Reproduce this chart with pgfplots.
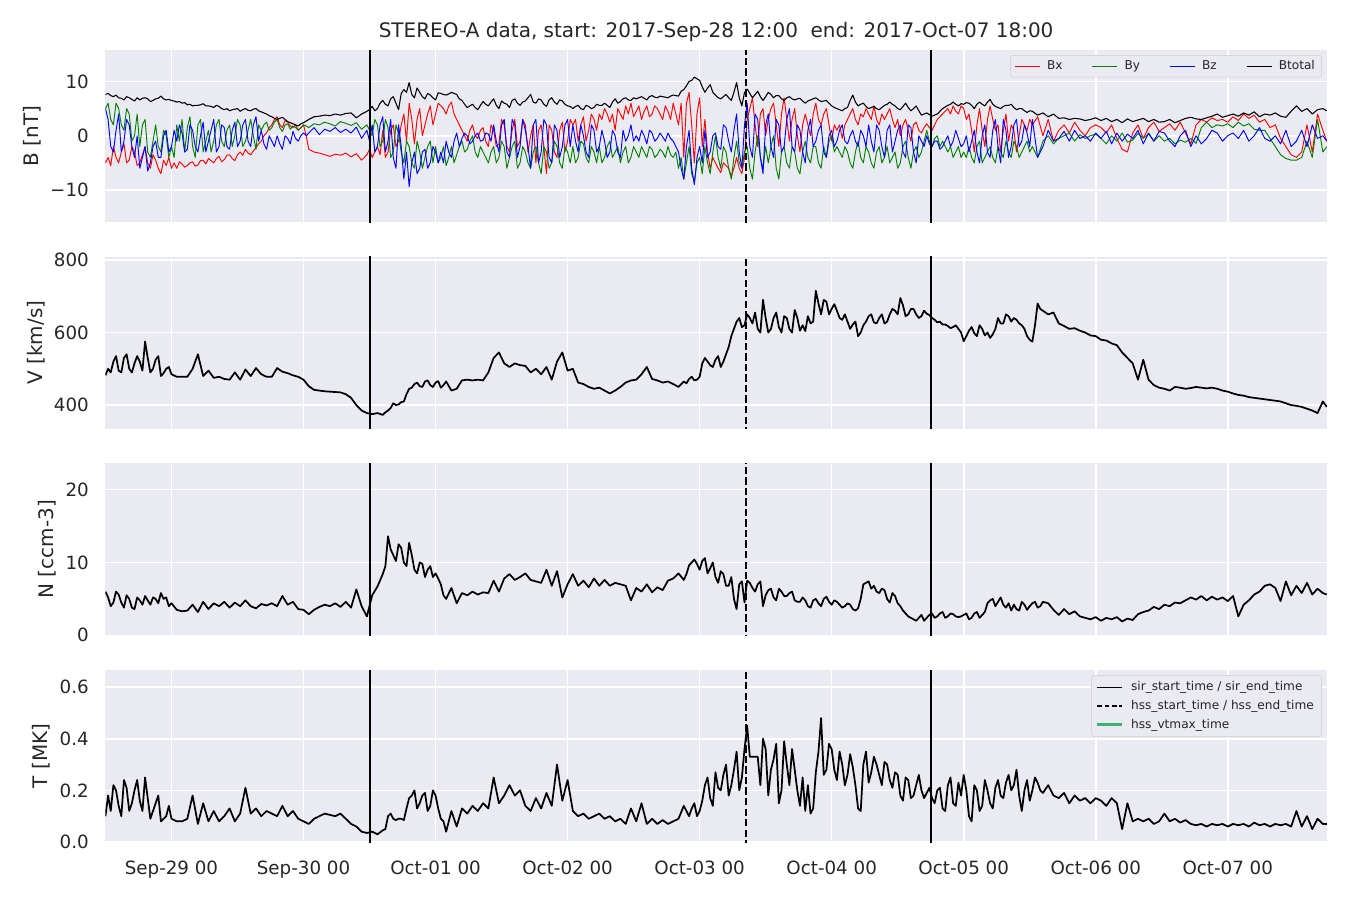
\documentclass[border=0pt]{standalone}
\usepackage{fontspec}
\setmainfont{DejaVu Sans}
\usepackage{pgfplots}
\usepackage{pgfplotstable}
\pgfplotsset{compat=1.18}

\definecolor{bgc}{HTML}{EAEAF2}
\definecolor{txt}{HTML}{262626}
\definecolor{mplgreen}{HTML}{008000}
\definecolor{seagreen}{HTML}{3CB371}

% magnetic field: time in days since 2017-09-28 00:00
\pgfplotstableread{
t bx by bz bt
0.50 -5 5 5 7.6
0.52 -4 6 3 7.8
0.54 -5.5 3 -2 7.4
0.56 -2 2 -3 7.2
0.58 -4 6 1 7.5
0.60 -5 5 4 7.0
0.62 -3 2 -3 6.9
0.64 -1.5 1 -1 6.6
0.66 -5 5 3 7.2
0.68 -4.5 4 2 7.0
0.70 -2 -1 -2 6.7
0.72 -3 0 -4 6.4
0.74 -5.5 4 0 7.0
0.76 -5 -2 -6 6.6
0.78 -3.5 2 -4 6.9
0.80 -2 3 -2 7.0
0.82 -5 -3 -6.5 6.8
0.84 -6 -4 -5 6.3
0.86 -3.5 -1 -2 6.5
0.88 -4.5 2 -1 6.8
0.90 -6 -2 -4 6.9
0.92 -7 -3 -4 7.3
0.94 -4.5 1 0 6.8
0.96 -5.5 0 1 6.6
0.98 -4 -4 -3 6.7
1.00 -6 -2 -2 6.5
1.02 -5 -4 1 6.4
1.04 -6 2 -1 6.2
1.06 -4.8 -1 2 6.3
1.08 -5.2 3 0.5 6.0
1.10 -5.8 -3 -3 6.1
1.12 -5.5 1.5 -2.5 5.7
1.14 -5 3.5 2 5.8
1.16 -4.8 -2 1 5.5
1.18 -5.6 -4 -2 5.6
1.20 -5.4 2 -3 5.6
1.22 -4.6 3 0 5.7
1.24 -4.5 -3 2.5 5.9
1.26 -5.2 -1 -3 5.5
1.28 -4.2 1 -1 5.5
1.30 -4.6 -3 1 5.4
1.32 -5 -1 3 5.2
1.34 -4.2 2 -3 5.6
1.36 -3.8 3 -2 5.4
1.38 -4.8 -1 2 5.0
1.40 -4.4 -2 1.5 4.8
1.42 -3.6 1 -2 5.0
1.44 -3.5 2 -2.5 4.6
1.46 -4.2 -2 1 4.8
1.48 -4.6 0 2.5 4.9
1.50 -3.5 3 -2 5.0
1.52 -3 2 -1 4.5
1.54 -3.6 -2 2 4.8
1.56 -2.5 -1 3 5.0
1.58 -3.2 1 -1 4.7
1.60 -3.5 3 -2 4.6
1.62 -2.8 0 2 4.9
1.64 -2.2 -2.5 3.5 5.0
1.66 -1.5 2 -1 4.6
1.68 -1 1 1 4.4
1.70 0 2 -1.5 4.2
1.72 0.5 2.5 -2.5 4.0
1.74 1.5 1 0 3.7
1.76 2 1.5 -1 3.5
1.78 3 2.5 -2 3.2
1.80 3.5 3 0 3.0
1.82 2 1.5 -1.5 3.2
1.84 1.5 0.8 -2.5 3.4
1.86 2.8 2 0 3.0
1.88 2.5 2.2 -0.5 2.6
1.90 1.8 1.2 -1.5 2.4
1.92 1.5 1.8 0.8 2.2
1.94 2 1.5 -0.5 2.0
1.96 1 1 -1 1.8
1.98 1.5 1.5 0 2.2
2.00 2 2 0.5 2.4
2.02 0 1.8 0 2.7
2.04 -2.5 1.5 0.5 3.0
2.08 -3 2.2 1.5 3.5
2.12 -3.2 2 0.2 3.6
2.16 -3.5 2.5 1.2 3.8
2.20 -3.8 2.2 0.8 3.7
2.24 -3.4 1.8 1.5 4.0
2.28 -3.6 2.6 0.6 3.8
2.32 -3.2 2.3 1.2 4.1
2.36 -3.9 1.9 0.5 4.2
2.40 -3.3 2.4 1.6 3.3
2.44 -4.5 1.2 -0.5 4.0
2.48 -3.5 2 1 4.5
2.50 -2.5 1 -1 4.8
2.52 -4 0 2 5.4
2.54 -3 3 -3 4.6
2.56 -2 2 -2 5.0
2.58 -3.5 -2 2 6.0
2.60 1 -1 3.5 6.5
2.62 -4 3 -3 5.8
2.64 -3 1.5 -1 5.5
2.66 1 -4 3 6.8
2.68 2 -3 -4 7.2
2.70 -2 2 -6 6.0
2.72 -1 0.5 2 4.8
2.74 2 -3 -2 7.8
2.76 4 -5 -8 8.5
2.78 -1 -1 -3 8.0
2.80 6 -2 -9.4 9.8
2.82 3 -5 -5 7.6
2.84 -1.5 -6 -3 7.0
2.86 3 -1 -7 8.8
2.88 5 -3 -6 8.0
2.90 0 -6 -3 7.2
2.92 2 -4 -2.5 6.8
2.94 4 -2 -6 7.8
2.96 5.5 -1 -5 7.5
2.98 2 -5 -2 7.0
3.00 4 -2 -3 6.6
3.02 6 -5 -5 7.9
3.04 5.5 -4 -3 7.8
3.06 5 -2 -5 7.6
3.08 4 -5.5 -1 7.5
3.10 5.5 -4 -3 7.7
3.12 6.2 -2 -4 8.0
3.14 4 -5 -1 7.8
3.16 3 -3.5 0.5 7.6
3.18 2 -2 -2 6.8
3.20 1 -1 -0.5 6.5
3.22 0 -3 0.5 5.8
3.24 -1 -2.5 0 5.2
3.26 1 -1 -1.5 5.5
3.28 2 0 -1 5.8
3.30 0 -3 0 5.2
3.32 -0.5 -4 0.5 4.8
3.34 1 -2 -1 5.6
3.36 1.5 -3 -0.8 6.3
3.38 -1 -4 0.5 5.8
3.40 -2 -5 0.3 5.5
3.42 2 -3 -1 6.2
3.44 1 -2 2 6.8
3.46 -2 -5 -1 5.6
3.48 -1.5 -4 -3 5.0
3.50 3 -1 2 6.4
3.52 2 -2 3 6.0
3.54 -2 -6 -3 5.8
3.56 -3 -4 -4 5.2
3.58 1 -2 3 6.5
3.60 3 -1 2 6.8
3.62 -2 -6 -4 6.0
3.64 -1 -5 -2 5.6
3.66 3 -2 3 6.2
3.68 2 -3 1 6.4
3.70 -3 -5 -2 7.0
3.72 0 -6 -6 7.6
3.74 2 -3 2 6.2
3.76 -5 -2 3 6.0
3.78 1 -5 -5 6.8
3.80 2 -7 -3 6.6
3.82 -2 -2 3 5.8
3.84 -7 -3 2 5.4
3.86 2 -6 -4 6.6
3.88 1 -5 -5 7.0
3.90 -3 -1 2 6.2
3.92 -4 -2 1 5.8
3.94 1 -5 -4 6.6
3.96 2.5 -6 -2 6.4
3.98 -3 -2 2 5.8
4.00 -1 -3 3 5.5
4.02 3 -5 -2 5.4
4.04 2 -2 2 5.0
4.06 3 -5 -1 5.4
4.08 -1 -4 -3 5.6
4.10 2 -1 2 5.0
4.12 3.5 -1.5 0 4.8
4.14 -1 -4 -3 5.6
4.16 1 -5 -4 5.4
4.18 4 -2 2 5.0
4.20 3 -3 1 5.2
4.22 1 -5 -3 5.8
4.24 4 -2 -2 5.6
4.26 3 -5 1 5.6
4.28 5 -4 -1 6.0
4.30 4 -2 -4 5.6
4.32 2.5 -1 -3 5.2
4.34 4 -4 1 6.2
4.36 1 -3 0 6.8
4.38 5 -2 -3 6.0
4.40 4 -5 -4 6.3
4.42 3 -3 1 6.8
4.44 5.5 -2 -1 7.0
4.46 4 -5 0 6.6
4.48 6 -4 2 6.5
4.50 3.5 -2 -1 7.0
4.52 4.5 -3 0 6.8
4.54 5.5 -4 -1 7.0
4.56 3 -2 1 7.2
4.58 4.5 -3 0 6.9
4.60 5.5 -4 -1.5 6.6
4.62 3.5 -2 1 7.2
4.64 4 -2.5 0.5 7.4
4.66 5.5 -4 -1 7.1
4.68 5 -3.5 -0.5 7.0
4.70 4 -2.5 0.5 7.3
4.72 3 -3 -0.2 7.2
4.74 5.5 -4 -1 7.1
4.76 4.5 -2 0.5 7.0
4.78 3 -3.5 -0.5 7.3
4.80 6 -4 -1 7.5
4.82 4 -3 -2 7.4
4.84 2 -6 -3 7.3
4.86 6 -4 -6 8.2
4.88 -4 -8 -8 8.5
4.90 6 -5 -2 9.2
4.92 8 -2 1 10.0
4.94 2 -7 -6 10.2
4.96 -5 -8.5 -9 10.8
4.98 4 -5 -4 10.5
5.00 7 -4 -2 10.2
5.02 -2 -7 -5 9.0
5.04 3 -2 1 8.0
5.06 -3 -5 -4 8.8
5.08 -6 -7 -3 9.4
5.10 -4 -3 0 8.0
5.12 -5 0 0.5 7.5
5.14 -6 -4 -2 7.0
5.16 -6.8 -6 -2.5 6.8
5.18 -5 -2 2 7.2
5.20 -5.5 -3 1.5 7.6
5.22 -6 -6 -1 7.0
5.24 -7.5 -8 -3 6.5
5.26 -6 -4 1 8.0
5.28 -4 -1 4 9.8
5.30 -6 -5 -3 7.0
5.32 -7 -6 -6 5.5
5.34 -4 -3 2 8.0
5.36 3 -2 6 8.6
5.38 5 -6 -2 7.8
5.40 7 -8 -4 7.0
5.42 2 -3 4 7.6
5.44 -2 0 3 8.2
5.46 4 -4 -4 7.2
5.48 5 -6 -7 6.5
5.50 0 -2 2 7.2
5.52 3 -5 4 8.0
5.54 5 -2 -2 7.6
5.56 6 0 -4 7.0
5.58 2 -6 3 7.4
5.60 -2 -8 2 7.4
5.62 4 -3 -3 6.8
5.64 7 -2 -2 6.5
5.66 3 -5 3 7.0
5.68 -1 -6 5 7.2
5.70 3 -2 -2 6.8
5.72 5 -3 -3 6.6
5.74 0 -6 2 6.8
5.76 -3 -7 1 6.9
5.78 2 -3 -3 6.4
5.80 4 -1 -5 6.0
5.82 2 -4 1 6.4
5.84 0 -5 3 6.6
5.86 4 -2 -2 6.8
5.88 6 -2 -1 7.0
5.90 3 -5 1 6.6
5.92 2 -6 2 6.3
5.94 4 -2 -3 6.4
5.96 5 -4 -4 6.5
5.98 2 -1 0 6.0
6.00 -1 0 1 5.5
6.02 2 -3 -2 5.2
6.04 1 -2 -1 5.0
6.06 2 -3 1 4.8
6.08 -0.5 -4 2 4.6
6.10 2 -2 -1 5.0
6.12 3 -3 -1.5 5.2
6.14 4 -5 0 6.5
6.16 5 -6 1 7.5
6.18 3 -3 -1 6.2
6.20 2 -1 -2 5.5
6.22 4 -4 1 5.8
6.24 3.5 -5 0 6.0
6.26 5 -2 -2 5.4
6.28 4 -3 2 5.0
6.30 3 -5 -1 5.2
6.32 5.5 -6 -3 5.4
6.34 3 -3 2 5.0
6.36 2 -2 1 4.8
6.38 4 -5 -2 5.2
6.40 3 -4 -4 5.6
6.42 4 -2 1 5.8
6.44 5 -5 2 6.2
6.46 3 -4 -3 5.8
6.48 1.5 -3 -1 5.5
6.50 3 -6 1 5.0
6.52 0 -5 2 4.8
6.54 2 -2 -3 5.4
6.56 3 -1 -4 6.0
6.58 1 -4 2 5.2
6.60 -1 -6 1.5 4.6
6.62 2 -3 -3 5.0
6.64 2.5 -2 -5 5.5
6.66 1 -4 0 4.6
6.68 0.5 -3 -1 3.8
6.70 1.5 -1 -2 4.0
6.72 2.2 1 0 4.2
6.74 1.5 -1 -1.5 3.9
6.76 1 -2 -2 3.6
6.78 2 -0.5 -1 3.8
6.80 3 0 -1 4.0
6.82 3.5 -2 -2.5 4.5
6.84 4 -1 -2 5.0
6.86 4.5 -2 -1 5.3
6.88 5 -3 0 5.6
6.90 4 -2 -2 5.8
6.92 5.5 -4 -1 6.2
6.94 4.5 -3 1 5.8
6.96 4 -2 -0.5 5.5
6.98 5.5 -4 -2 5.9
7.00 5 -3 -1.5 5.8
7.02 3 -4 0 6.1
7.04 4 -2 -3 6.0
7.06 1 -4 -1 5.6
7.08 -3 -5 1 5.0
7.10 2 -2 -3 5.8
7.12 5 -1 -5 6.2
7.14 1 -5 0 5.8
7.16 -2 -4 2 5.5
7.18 3 -3 -3 6.2
7.20 5.5 -2 -4 6.7
7.22 3 -4 1 5.8
7.24 1 -5 3 5.4
7.26 2 -2 -2 5.2
7.28 -3 -3 -5 5.0
7.30 1 -4 3 5.4
7.32 4 -1 1 5.6
7.34 -1 -3 -4 5.6
7.36 2 -4 -2 5.8
7.38 1 -1 2 5.2
7.40 -3 -2 3 4.8
7.42 0 -4 -2 5.0
7.44 3 -3 -1 5.0
7.46 2 -2 2 4.6
7.48 1 -1 0.5 4.3
7.50 3 -3 -2 4.6
7.52 2 -2 3 4.5
7.56 3.5 -4 -4 3.8
7.60 0 -1 -2 4.2
7.64 3 0 1 3.5
7.68 -1 -1.5 -1 4.0
7.72 1 -0.5 -0.5 3.2
7.76 2 0 0.8 3.3
7.80 0.5 0.5 -1 3.0
7.84 2.5 -1 1 3.2
7.88 1 0.2 -0.5 3.1
7.92 0 -0.5 0 2.8
7.96 1.5 0 -1 3.0
8.00 2 0.3 0.5 3.3
8.04 1.5 -0.5 -0.5 2.8
8.08 0.5 -1.5 0.8 3.2
8.12 2 0 -1.5 2.6
8.16 -0.5 -1 0.5 3.0
8.20 -2.5 0.5 -1 2.4
8.24 -3 -1.2 0.3 3.1
8.28 0.5 -0.8 -0.5 2.6
8.32 2 0.4 1 2.9
8.36 -0.5 -0.4 -1.5 3.2
8.40 1.5 0.3 0.5 2.6
8.44 2.5 -1 -1 3.0
8.48 0.8 0 0.8 2.5
8.52 1.5 -1 0.5 2.6
8.56 2.2 -0.5 -1 3.0
8.60 1 -1.5 -2 2.4
8.64 2.5 -0.8 0 2.8
8.68 0.5 -1.2 1 3.2
8.72 -1.5 -0.5 -2 3.4
8.76 2 -1.4 0 3.1
8.80 3 1.5 -1.5 3.0
8.84 2.5 2.5 -0.5 3.3
8.88 3.3 1.5 1 3.6
8.92 2.8 2 0.5 4.0
8.96 3 1.8 -1 3.4
9.00 2.5 2.2 0 3.7
9.04 3.5 1.5 0.5 4.0
9.08 2.8 2.5 -0.5 3.6
9.12 4 1.8 1 4.2
9.16 3.2 2.2 -1 3.8
9.20 3.8 1.2 0 4.4
9.24 2.5 1 1.5 3.5
9.28 3 1 -0.5 4.0
9.32 1.5 -0.5 -1 3.8
9.36 2 -2 0 4.2
9.40 -0.5 -3.5 -1.5 3.6
9.44 -2 -4.2 1 3.4
9.48 -3.5 -4.5 -2 4.5
9.52 -4 -4.5 -1 5.5
9.56 -3 -4 1 4.5
9.60 2 -1 -2 5.0
9.64 -3 -4 2 4.0
9.68 4 3 -0.5 4.8
9.72 1 -3 0 5.0
9.75 -1 -2 -1 4.6
}\bdata

% plasma: speed, density, temperature
\pgfplotstableread{
t v n T
0.50 482 6.0 0.10
0.52 500 5.2 0.18
0.54 490 4.0 0.12
0.56 520 4.5 0.22
0.58 535 6.0 0.20
0.60 495 5.6 0.14
0.62 490 4.5 0.10
0.64 530 3.8 0.24
0.66 540 5.5 0.21
0.68 500 5.0 0.12
0.70 490 3.8 0.15
0.72 515 3.6 0.20
0.74 535 5.2 0.24
0.76 520 4.8 0.16
0.78 495 4.2 0.12
0.80 575 5.4 0.25
0.82 530 4.8 0.17
0.84 490 4.2 0.09
0.86 500 5.2 0.12
0.88 525 5.0 0.15
0.90 535 4.4 0.18
0.92 480 5.8 0.08
0.94 488 5.0 0.09
0.96 500 5.2 0.10
0.98 505 4.0 0.14
1.00 485 4.4 0.09
1.04 478 3.5 0.08
1.08 478 3.3 0.08
1.12 478 3.4 0.09
1.16 500 4.2 0.18
1.20 540 3.2 0.07
1.24 480 4.6 0.15
1.28 495 3.6 0.08
1.32 475 4.4 0.12
1.36 478 4.0 0.08
1.40 472 4.6 0.10
1.44 470 3.8 0.13
1.48 490 4.5 0.08
1.52 470 4.0 0.11
1.56 498 4.8 0.21
1.60 480 4.0 0.11
1.64 502 3.7 0.13
1.68 485 4.3 0.10
1.72 478 4.1 0.12
1.76 478 4.4 0.11
1.80 502 4.0 0.10
1.84 492 5.4 0.14
1.88 488 4.2 0.10
1.92 482 4.6 0.12
1.96 478 3.6 0.09
2.00 470 3.5 0.08
2.04 452 2.9 0.07
2.08 442 3.5 0.09
2.12 440 3.9 0.10
2.16 438 4.2 0.11
2.20 437 4.0 0.105
2.24 436 4.4 0.10
2.28 435 3.9 0.11
2.32 430 4.6 0.09
2.36 420 3.8 0.07
2.40 400 6.3 0.06
2.44 385 4.0 0.04
2.48 378 2.6 0.035
2.52 375 5.5 0.04
2.56 378 6.7 0.03
2.60 373 8.4 0.045
2.62 380 9.5 0.05
2.64 385 13.6 0.10
2.66 392 11.8 0.11
2.68 405 11.0 0.09
2.70 400 10.2 0.085
2.72 402 12.5 0.09
2.74 408 12.0 0.09
2.76 410 10.0 0.085
2.78 430 9.5 0.13
2.80 445 12.7 0.17
2.82 448 11.0 0.18
2.84 458 9.0 0.20
2.86 462 8.5 0.13
2.88 452 10.0 0.15
2.90 450 9.8 0.18
2.92 465 8.0 0.19
2.94 468 9.0 0.12
2.96 455 9.5 0.14
2.98 450 8.0 0.20
3.00 462 8.5 0.18
3.02 466 7.8 0.13
3.04 448 7.0 0.09
3.06 455 5.5 0.08
3.08 465 5.0 0.04
3.12 440 6.5 0.12
3.16 445 4.4 0.06
3.20 468 5.8 0.13
3.24 470 5.5 0.11
3.28 468 6.0 0.14
3.32 470 5.6 0.12
3.36 468 5.9 0.15
3.40 490 5.8 0.13
3.44 530 7.5 0.25
3.48 545 6.0 0.15
3.52 515 7.8 0.18
3.56 505 8.4 0.22
3.60 515 7.6 0.18
3.64 510 8.0 0.20
3.68 508 8.5 0.14
3.72 490 7.6 0.12
3.76 500 7.4 0.17
3.80 485 7.2 0.13
3.84 505 9.0 0.19
3.88 470 6.8 0.14
3.92 520 8.8 0.30
3.96 545 5.2 0.16
4.00 495 7.0 0.24
4.04 500 8.4 0.12
4.08 462 6.8 0.10
4.12 458 7.5 0.11
4.16 450 6.6 0.09
4.20 445 7.8 0.10
4.24 448 6.8 0.11
4.28 440 7.6 0.09
4.32 432 6.8 0.10
4.36 440 7.2 0.08
4.40 450 7.0 0.09
4.44 462 6.8 0.07
4.48 468 4.8 0.13
4.52 470 6.5 0.08
4.56 485 6.0 0.15
4.60 505 7.0 0.07
4.64 472 5.9 0.09
4.68 468 6.6 0.07
4.72 462 6.2 0.085
4.76 465 7.5 0.07
4.80 458 7.8 0.08
4.84 450 8.5 0.09
4.88 465 7.6 0.14
4.90 460 8.4 0.12
4.92 472 9.6 0.10
4.94 478 10.0 0.13
4.96 468 10.4 0.15
4.98 470 9.8 0.10
5.00 478 9.0 0.12
5.02 515 10.2 0.16
5.04 530 10.6 0.22
5.06 520 8.5 0.25
5.08 510 9.2 0.17
5.10 505 10.0 0.14
5.12 525 8.0 0.27
5.14 535 7.2 0.21
5.16 505 8.8 0.20
5.18 520 8.4 0.26
5.20 540 6.8 0.30
5.22 560 6.8 0.18
5.24 590 8.0 0.22
5.26 610 5.0 0.28
5.28 630 3.6 0.35
5.30 640 7.0 0.20
5.32 615 7.4 0.25
5.34 620 4.5 0.36
5.36 650 7.5 0.45
5.38 640 7.2 0.33
5.40 625 6.5 0.33
5.42 655 6.0 0.33
5.44 610 7.0 0.33
5.46 600 7.4 0.22
5.48 690 4.0 0.40
5.50 640 5.5 0.36
5.52 600 6.2 0.18
5.54 610 6.4 0.28
5.56 640 5.2 0.32
5.58 655 4.8 0.38
5.60 615 6.4 0.15
5.62 600 6.0 0.20
5.64 645 5.4 0.39
5.66 640 5.4 0.30
5.68 610 5.8 0.22
5.70 600 6.0 0.36
5.72 662 4.8 0.28
5.74 640 4.6 0.20
5.76 605 4.6 0.14
5.78 620 5.2 0.25
5.80 604 4.8 0.12
5.82 645 4.0 0.22
5.84 625 3.8 0.11
5.86 630 4.8 0.13
5.88 715 5.0 0.27
5.90 680 4.4 0.35
5.92 650 4.0 0.48
5.94 690 5.0 0.26
5.96 685 5.3 0.28
5.98 650 4.6 0.38
6.00 665 4.2 0.36
6.02 678 4.8 0.28
6.04 660 4.6 0.24
6.06 640 4.2 0.35
6.08 635 3.8 0.30
6.10 650 4.0 0.22
6.12 630 4.4 0.26
6.14 610 4.2 0.34
6.16 622 3.6 0.29
6.18 630 3.4 0.22
6.20 590 3.7 0.13
6.22 600 5.0 0.12
6.24 620 7.0 0.30
6.26 630 7.2 0.35
6.28 645 7.4 0.23
6.30 650 6.4 0.27
6.32 628 6.8 0.33
6.34 625 6.0 0.30
6.36 640 5.8 0.26
6.38 650 6.4 0.22
6.40 625 6.2 0.31
6.42 630 5.0 0.30
6.44 650 4.5 0.24
6.46 665 5.8 0.21
6.48 660 5.4 0.27
6.50 650 4.4 0.26
6.52 695 4.0 0.18
6.54 675 3.4 0.16
6.56 645 3.0 0.25
6.58 650 2.6 0.24
6.60 665 2.4 0.17
6.62 665 2.2 0.18
6.64 650 2.0 0.22
6.66 640 2.4 0.26
6.68 645 2.8 0.20
6.70 660 2.0 0.17
6.72 652 2.4 0.19
6.74 648 2.8 0.21
6.76 640 3.0 0.17
6.78 635 2.4 0.15
6.80 628 2.6 0.20
6.82 630 3.0 0.21
6.84 622 3.2 0.13
6.86 622 2.4 0.12
6.88 618 2.6 0.22
6.90 612 3.0 0.25
6.92 615 2.9 0.15
6.94 620 2.6 0.14
6.96 610 2.5 0.23
6.98 600 2.6 0.18
7.00 576 2.8 0.26
7.02 590 3.0 0.20
7.04 605 2.2 0.10
7.06 615 2.4 0.08
7.08 598 3.0 0.22
7.10 590 3.2 0.20
7.12 620 2.4 0.12
7.14 610 2.8 0.14
7.16 592 3.2 0.24
7.18 600 4.4 0.20
7.20 585 4.8 0.15
7.22 595 5.0 0.13
7.24 610 4.0 0.21
7.26 640 4.6 0.24
7.28 625 5.2 0.18
7.30 625 4.2 0.17
7.32 650 3.8 0.23
7.34 645 4.4 0.26
7.36 630 3.4 0.20
7.38 640 4.2 0.22
7.40 635 3.6 0.28
7.42 625 3.4 0.18
7.44 620 4.6 0.12
7.46 610 4.2 0.20
7.48 590 3.5 0.24
7.50 580 4.0 0.16
7.52 575 4.4 0.20
7.54 620 4.6 0.25
7.56 680 3.8 0.23
7.58 665 4.0 0.20
7.60 660 4.6 0.19
7.64 650 4.4 0.22
7.68 655 3.5 0.18
7.72 625 2.8 0.17
7.76 618 3.6 0.19
7.80 610 2.9 0.15
7.84 612 3.3 0.18
7.88 605 2.6 0.16
7.92 600 2.4 0.17
7.96 592 2.2 0.15
8.00 590 2.5 0.17
8.04 580 2.0 0.16
8.08 578 2.4 0.14
8.12 570 2.2 0.17
8.16 565 2.5 0.15
8.20 545 1.9 0.05
8.24 530 2.3 0.15
8.28 515 2.1 0.08
8.32 470 2.9 0.09
8.36 525 3.2 0.08
8.40 470 3.4 0.09
8.44 455 3.9 0.07
8.48 448 3.6 0.08
8.52 445 4.2 0.11
8.56 440 4.0 0.08
8.60 450 4.5 0.09
8.64 448 4.4 0.075
8.68 445 4.8 0.085
8.72 447 5.2 0.07
8.76 450 4.9 0.065
8.80 448 5.4 0.07
8.84 446 4.8 0.06
8.88 448 5.3 0.07
8.92 445 4.9 0.065
8.96 440 5.2 0.07
9.00 437 4.7 0.06
9.04 432 5.4 0.07
9.08 428 2.6 0.065
9.12 426 4.2 0.07
9.16 422 4.8 0.06
9.20 420 5.6 0.075
9.24 418 6.0 0.065
9.28 416 6.8 0.07
9.32 414 7.0 0.06
9.36 412 6.5 0.07
9.40 410 4.7 0.065
9.44 405 7.4 0.07
9.48 400 5.5 0.06
9.52 398 6.8 0.12
9.56 395 5.8 0.06
9.60 390 7.2 0.10
9.64 385 5.6 0.05
9.68 378 6.4 0.09
9.72 410 5.8 0.07
9.75 395 5.6 0.07
}\pdata

\pgfplotsset{
  panel/.style={
    scale only axis, width=916pt, height=129pt,
    xmin=0.5, xmax=9.75,
    anchor=north west,
    axis background/.style={fill=bgc},
    axis line style={draw=none},
    major tick length=0pt,
    grid=major,
    major grid style={white, line width=1.2pt},
    xtick={1,2,3,4,5,6,7,8,9}, xticklabels={},
    tick label style={font=\fontsize{13.7}{16}\selectfont, text=txt},
    yticklabel style={xshift=-9pt},
    xticklabel style={yshift=-10.5pt},
    ylabel style={font=\fontsize{15}{18}\selectfont, text=txt},
    every axis plot/.append style={line join=round},
    legend cell align=left,
  },
  sir/.style={black, line width=1.5pt, forget plot},
  hss/.style={black, line width=1.5pt, dash pattern=on 5.5pt off 2.4pt, forget plot},
}

\begin{document}
\begin{tikzpicture}
\useasboundingbox (-79.1pt,37.5pt) rectangle (933.4pt,-637.5pt);

% --- magnetic field ---
\begin{axis}[panel, at={(0pt,0pt)},
  ymin=-15.9, ymax=15.8, ytick={-10,0,10}, yticklabels={−10,0,10},
  ylabel={B [nT]},
  title={STEREO-A data, start: 2017-Sep-28 12:00\ \ end: 2017-Oct-07 18:00},
  title style={font=\fontsize{15}{18}\selectfont, text=txt, at={(0.5,1)}, anchor=base, yshift=3.5pt},
  legend columns=4,
  legend style={at={(rel axis cs:1,1)}, anchor=north east, xshift=-3.75pt, yshift=-3.75pt,
    font=\fontsize{9.1}{11}\selectfont, text=txt, fill=bgc, draw=black!20, rounded corners=2pt,
    /tikz/every odd column/.append style={column sep=3pt},
    /tikz/every even column/.append style={column sep=20pt}},
  legend image code/.code={\draw[#1] (0pt,0pt) -- (18.75pt,0pt);},
]
\addplot[red, line width=0.7pt] table[x=t, y=bx]{\bdata};
\addlegendentry{Bx}
\addplot[mplgreen, line width=0.7pt] table[x=t, y=by]{\bdata};
\addlegendentry{By}
\addplot[blue, line width=0.7pt] table[x=t, y=bz]{\bdata};
\addlegendentry{Bz}
\addplot[black, line width=0.8pt] table[x=t, y=bt]{\bdata};
\addlegendentry{Btotal}
\addplot[sir] coordinates {(2.5,-20) (2.5,20)};
\addplot[hss] coordinates {(5.35,-20) (5.35,20)};
\addplot[sir] coordinates {(6.75,-20) (6.75,20)};
\end{axis}

% --- speed ---
\begin{axis}[panel, at={(0pt,-155pt)},
  ymin=335, ymax=809, ytick={400,600,800}, yticklabels={400,600,800},
  ylabel={V [km/s]},
]
\addplot[black, line width=1.3pt] table[x=t, y=v]{\pdata};
\addplot[sir] coordinates {(2.5,0) (2.5,1000)};
\addplot[hss] coordinates {(5.35,0) (5.35,1000)};
\addplot[sir] coordinates {(6.75,0) (6.75,1000)};
\end{axis}

% --- density ---
\begin{axis}[panel, at={(0pt,-310pt)},
  ymin=0, ymax=23.6, ytick={0,10,20}, yticklabels={0,10,20},
  ylabel={N [ccm-3]},
]
\addplot[black, line width=1.3pt] table[x=t, y=n]{\pdata};
\addplot[sir] coordinates {(2.5,-1) (2.5,30)};
\addplot[hss] coordinates {(5.35,-1) (5.35,30)};
\addplot[sir] coordinates {(6.75,-1) (6.75,30)};
\end{axis}

% --- temperature ---
\begin{axis}[panel, at={(0pt,-465pt)},
  ymin=0, ymax=0.666, ytick={0,0.2,0.4,0.6}, yticklabels={0.0,0.2,0.4,0.6},
  ylabel={T [MK]},
  xticklabels={Sep-29 00,Sep-30 00,Oct-01 00,Oct-02 00,Oct-03 00,Oct-04 00,Oct-05 00,Oct-06 00,Oct-07 00},
  legend style={at={(rel axis cs:1,1)}, anchor=north east, xshift=-3.75pt, yshift=-3.75pt,
    font=\fontsize{9.1}{11}\selectfont, text=txt, fill=bgc, draw=black!20, rounded corners=2pt,
    nodes={inner sep=2.8pt},
    /tikz/every odd column/.append style={column sep=3pt}},
  legend image code/.code={\draw[#1] (0pt,0pt) -- (18.75pt,0pt);},
]
\addlegendimage{black, line width=1.1pt}
\addlegendentry{sir\_start\_time / sir\_end\_time}
\addlegendimage{black, line width=1.1pt, dash pattern=on 3.6pt off 2pt}
\addlegendentry{hss\_start\_time / hss\_end\_time}
\addlegendimage{seagreen, line width=2pt}
\addlegendentry{hss\_vtmax\_time}
\addplot[black, line width=1.3pt, forget plot] table[x=t, y=T]{\pdata};
\addplot[sir] coordinates {(2.5,-1) (2.5,1)};
\addplot[hss] coordinates {(5.35,-1) (5.35,1)};
\addplot[sir] coordinates {(6.75,-1) (6.75,1)};
\end{axis}
\end{tikzpicture}
\end{document}
